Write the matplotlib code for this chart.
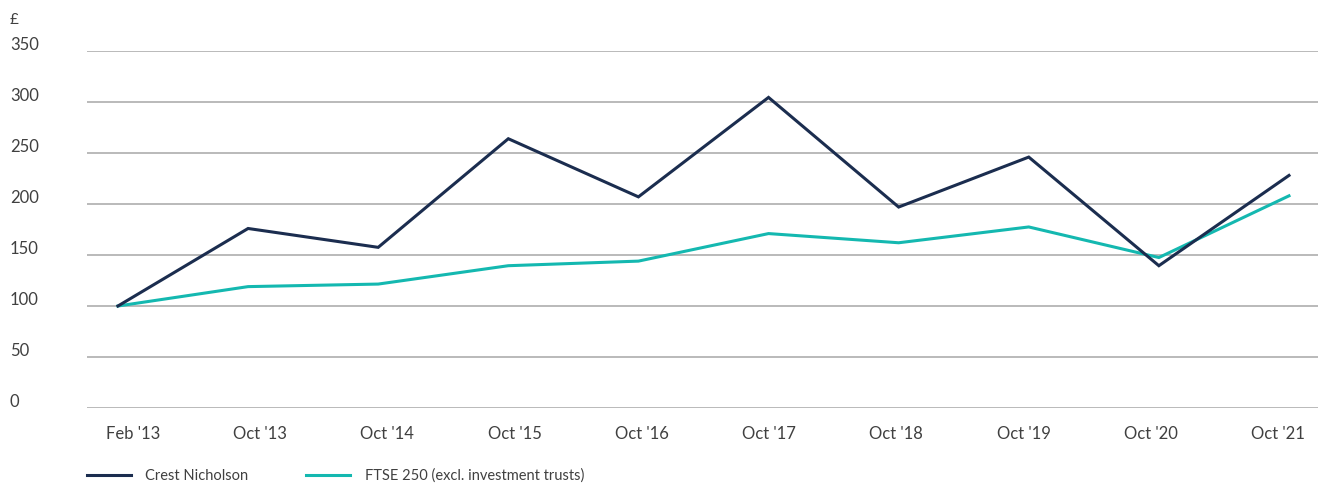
import matplotlib
matplotlib.use('Agg')
import matplotlib.pyplot as plt
import matplotlib.transforms as mtransforms
from matplotlib.lines import Line2D
import numpy as np

# total shareholder return, value of £100 invested
periods = ["Feb '13", "Oct '13", "Oct '14", "Oct '15", "Oct '16",
           "Oct '17", "Oct '18", "Oct '19", "Oct '20", "Oct '21"]
crest = [100, 176, 157.5, 264, 207, 304.5, 197, 246, 139.5, 228]
ftse = [100, 119, 121.5, 139.5, 144, 171, 162, 177.5, 147.5, 208]
yticks = [0, 50, 100, 150, 200, 250, 300, 350]

navy = '#1b2d4f'
teal = '#14b8b0'
grid = '#b4b4b4'
txt = '#404040'

plt.rcParams['font.family'] = ['Lato', 'DejaVu Sans']

fig = plt.figure(figsize=(13.18, 4.83), dpi=100)
ax = fig.add_axes([87 / 1318, 1 - 408 / 483, 1 - 87 / 1318, (408 - 51) / 483])

x = list(range(len(periods)))
ax.plot(x, ftse, color=teal, lw=2.2, solid_joinstyle='miter', zorder=3)
ax.plot(x, crest, color=navy, lw=2.2, solid_joinstyle='miter', zorder=4)

for v in yticks:
    ax.axhline(v, color=grid, lw=1.3, zorder=1)

ax.set_ylim(0, 350)
ax.set_xlim(-0.238, 9.223)
ax.set_yticks([])
# category labels are spread a little tighter than the points
ax.set_xticks(np.linspace(0.115, 8.916, len(periods)))
ax.set_xticklabels(periods, fontsize=12, color=txt)
ax.tick_params(axis='x', length=0, pad=13)
for s in ax.spines.values():
    s.set_visible(False)

# y labels sit left of the plot, slightly above each gridline
trans = mtransforms.blended_transform_factory(fig.transFigure, ax.transData)
offset = mtransforms.ScaledTranslation(0, 6 / 100, fig.dpi_scale_trans)
for v in yticks:
    fig.text(10 / 1318, v, str(v), transform=trans + offset,
             ha='left', va='center', fontsize=12, color=txt)
fig.text(10 / 1318, 1 - 20 / 483, '£', ha='left', va='center',
         fontsize=11, color=txt)

handles = [Line2D([], [], color=navy, lw=2.2),
           Line2D([], [], color=teal, lw=2.2)]
fig.legend(handles, ['Crest Nicholson', 'FTSE 250 (excl. investment trusts)'],
           loc='center left', bbox_to_anchor=(74 / 1318, 1 - 476 / 483),
           ncol=2, frameon=False, fontsize=10.5, handlelength=3.0,
           handletextpad=1.0, columnspacing=3.95, labelcolor=txt)

fig.savefig('out.png', dpi=100)
